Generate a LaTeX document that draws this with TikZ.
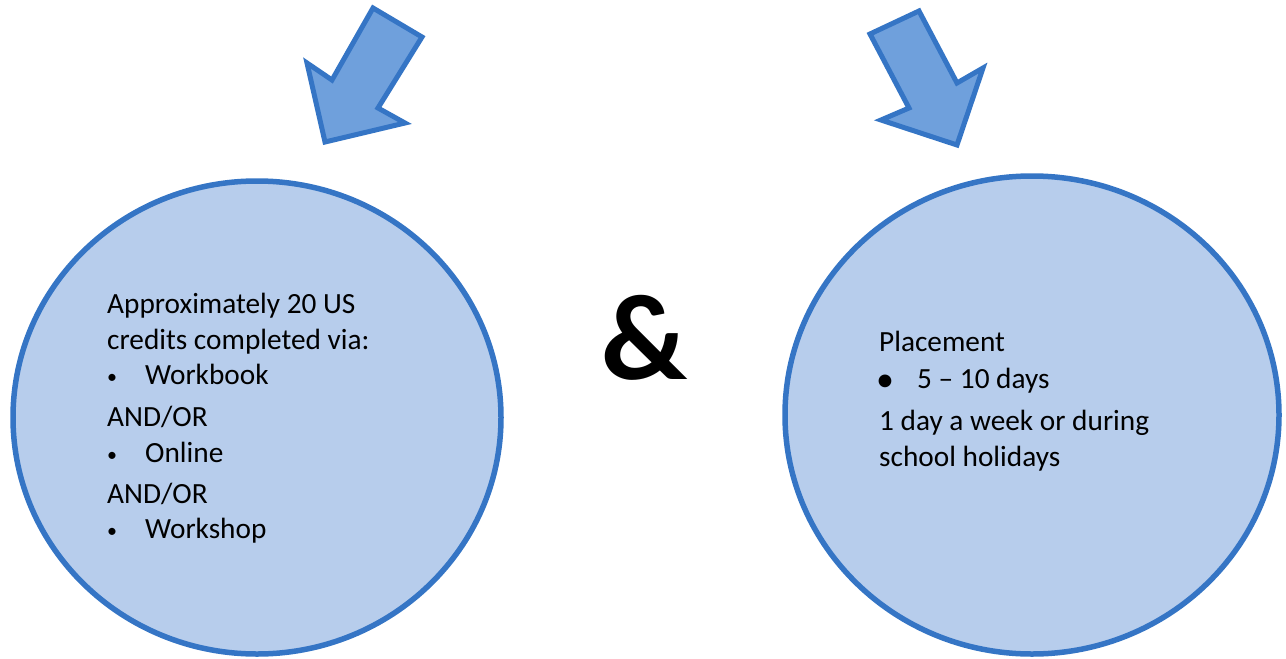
\documentclass[tikz,border=0pt]{standalone}
\usepackage{fontspec}
\setmainfont{Carlito}
\definecolor{edgeblue}{HTML}{3575C5}
\definecolor{circfill}{HTML}{B7CDEC}
\definecolor{arrowfill}{HTML}{6FA0DC}
\begin{document}
\begin{tikzpicture}[x=1pt,y=-1pt,
  bubble/.style={draw=edgeblue,fill=circfill,line width=5.5pt},
  bigarrow/.style={draw=edgeblue,fill=arrowfill,line width=5pt,line join=miter},
  txt/.style={anchor=base west,inner sep=0pt,font=\fontsize{29.3}{32}\selectfont},
  bul/.style={anchor=base,inner sep=0pt,font=\fontsize{20}{24}\selectfont}]
\useasboundingbox (0,0) rectangle (1286,659);
% circles
\draw[bubble] (257,417.5) ellipse [x radius=244, y radius=236.5];
\draw[bubble] (1032,415) ellipse [x radius=247, y radius=239];
% arrows
\draw[bigarrow] (373,8) -- (422,37) -- (378,108) -- (405,123) -- (325,142) -- (307,63) -- (332,80) -- cycle;
\draw[bigarrow] (870,34) -- (919,11) -- (957,83) -- (983,68) -- (957,145) -- (881,120) -- (909,108) -- cycle;
% ampersand
\node[inner sep=0pt,font=\bfseries\fontsize{122}{130}\selectfont] (amp) at (644,338) {\&};
% left text
\node[txt] (l1) at (107,313) {Approximately 20 US};
\node[txt] (l2) at (107,349) {credits completed via:};
\node[bul] (b1) at (112,383) {•};
\node[txt] (l3) at (145,384) {Workbook};
\node[txt] (l4) at (107,426) {AND/OR};
\node[bul] (b2) at (112,461) {•};
\node[txt] (l5) at (145,462) {Online};
\node[txt] (l6) at (107,503) {AND/OR};
\node[bul] (b3) at (112,537) {•};
\node[txt] (l7) at (145,538) {Workshop};
% right text
\node[txt] (r1) at (879,351) {Placement};
\node[bul,font=\fontsize{36}{40}\selectfont] (b4) at (885,391) {•};
\node[txt] (r2) at (917,388) {5 – 10 days};
\node[txt] (r3) at (879,430) {1 day a week or during};
\node[txt] (r4) at (879,466) {school holidays};
\end{tikzpicture}
\end{document}
